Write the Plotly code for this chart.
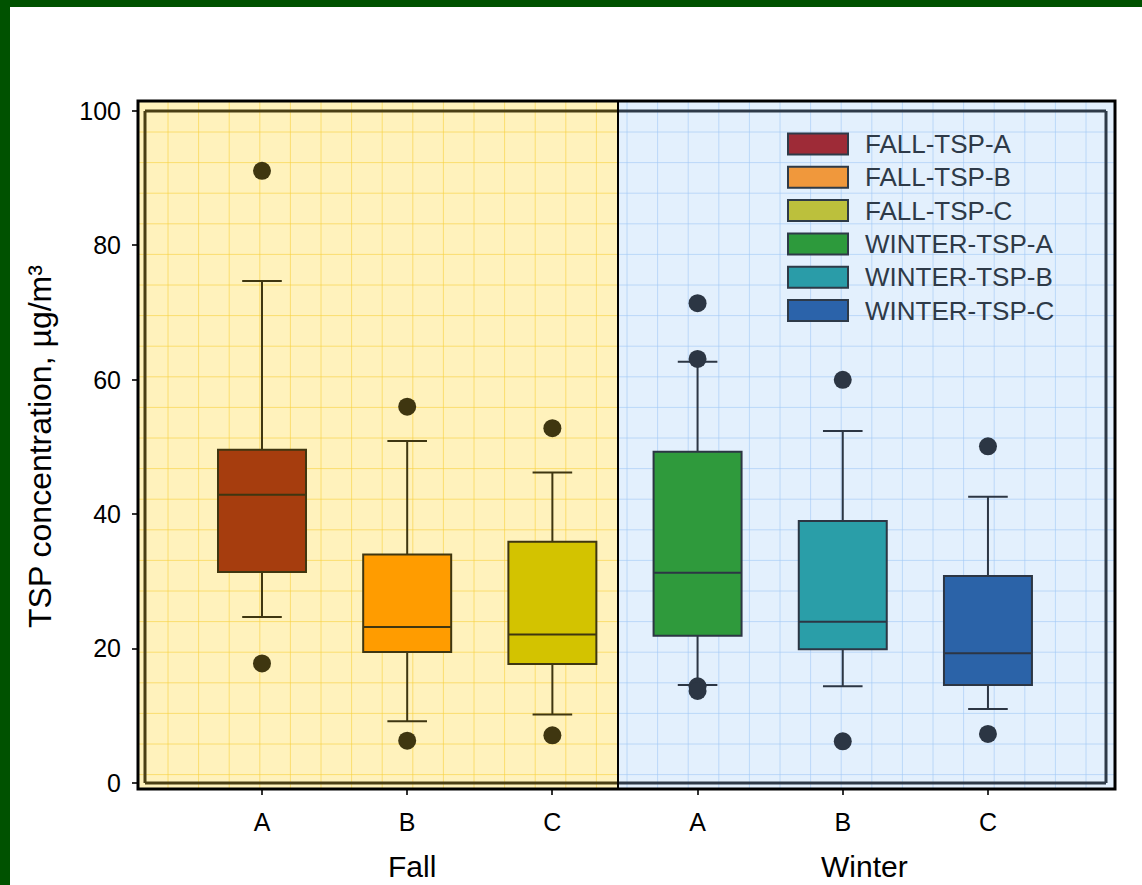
import plotly.graph_objects as go

# ---- data ----
categories = ["A", "B", "C", "A", "B", "C"]
series_names = ["FALL-TSP-A", "FALL-TSP-B", "FALL-TSP-C",
                "WINTER-TSP-A", "WINTER-TSP-B", "WINTER-TSP-C"]
lower_fence = [24.7, 9.2, 10.2, 14.6, 14.4, 11.0]
q1 = [31.4, 19.5, 17.7, 21.9, 19.9, 14.6]
median = [42.9, 23.2, 22.1, 31.3, 24.0, 19.3]
q3 = [49.6, 34.0, 35.9, 49.3, 39.0, 30.8]
upper_fence = [74.7, 50.9, 46.2, 62.7, 52.4, 42.6]
outliers = [[91.1, 17.8], [56.0, 6.3], [52.8, 7.1],
            [71.4, 63.1, 14.4, 13.7], [60.0, 6.2], [50.1, 7.3]]
season_labels = ["Fall", "Winter"]
y_ticks = [0, 20, 40, 60, 80, 100]

# ---- styling ----
box_fill = ["#a63d0e", "#ff9c00", "#d3c300", "#2f9a3c", "#2a9ea8", "#2b63a8"]
legend_fill = ["#9e2b37", "#f0983c", "#bcc03c", "#2d9a3c", "#2a9ca8", "#2b63aa"]
fall_ink = "#3f3610"
winter_ink = "#2c3644"
FONT = "Liberation Sans, Arial, sans-serif"

W, H = 1142, 885
L, R, T, B = 138, 1115, 101, 789   # plot area in pixels
PW, PH = R - L, B - T


def px(x):
    return (x - L) / PW


def py(y):
    return (B - y) / PH


fig = go.Figure()

positions = list(range(len(categories)))
for i in positions:
    ink = fall_ink if i < 3 else winter_ink
    fig.add_trace(go.Box(
        x=[i], q1=[q1[i]], median=[median[i]], q3=[q3[i]],
        lowerfence=[lower_fence[i]], upperfence=[upper_fence[i]],
        name=series_names[i], width=0.606, whiskerwidth=0.45,
        fillcolor=box_fill[i], line=dict(color=ink, width=2),
        boxpoints=False, showlegend=False, hoverinfo="skip",
    ))
    fig.add_trace(go.Scatter(
        x=[i] * len(outliers[i]), y=outliers[i], mode="markers",
        marker=dict(size=18, color=ink, line=dict(width=0)),
        showlegend=False, hoverinfo="skip",
    ))

shapes = []
div = 618
# season backgrounds
shapes.append(dict(type="rect", xref="paper", yref="paper", x0=0, x1=px(div),
                   y0=0, y1=1, fillcolor="#fff2bc", line=dict(width=0), layer="below"))
shapes.append(dict(type="rect", xref="paper", yref="paper", x0=px(div), x1=1,
                   y0=0, y1=1, fillcolor="#e3f0fd", line=dict(width=0), layer="below"))

# background grid texture
yellow_grid = "rgba(246,208,60,0.6)"
blue_grid = "rgba(160,200,245,0.6)"
step = 30.6
gx = L + 30
while gx < R:
    col = yellow_grid if gx < div else blue_grid
    shapes.append(dict(type="line", xref="paper", yref="paper", x0=px(gx), x1=px(gx),
                       y0=0, y1=1, line=dict(color=col, width=1), layer="below"))
    gx += step
gy = T + 31
while gy < B:
    for xa, xb, col in [(L, div, yellow_grid), (div, R, blue_grid)]:
        shapes.append(dict(type="line", xref="paper", yref="paper", x0=px(xa), x1=px(xb),
                           y0=py(gy), y1=py(gy), line=dict(color=col, width=1), layer="below"))
    gy += step

# inner axis frame
ix0, ix1, iy0, iy1 = 145, 1106, 111, 783
for xa, xb, col in [(ix0, div, "#4a3f14"), (div, ix1, "#2e3a48")]:
    for yy in (iy0, iy1):
        shapes.append(dict(type="line", xref="paper", yref="paper", x0=px(xa), x1=px(xb),
                           y0=py(yy), y1=py(yy), line=dict(color=col, width=3), layer="below"))
shapes.append(dict(type="line", xref="paper", yref="paper", x0=px(ix0), x1=px(ix0),
                   y0=py(iy0), y1=py(iy1), line=dict(color="#4a3f14", width=3), layer="below"))
shapes.append(dict(type="line", xref="paper", yref="paper", x0=px(ix1), x1=px(ix1),
                   y0=py(iy0), y1=py(iy1), line=dict(color="#2e3a48", width=3), layer="below"))

# outer frame and season divider
shapes.append(dict(type="rect", xref="paper", yref="paper", x0=0, x1=1, y0=0, y1=1,
                   line=dict(color="black", width=3)))
shapes.append(dict(type="line", xref="paper", yref="paper", x0=px(div), x1=px(div),
                   y0=0, y1=1, line=dict(color="black", width=2)))

# slide border
green = "#005200"
shapes.append(dict(type="rect", xref="paper", yref="paper", x0=px(0), x1=px(10),
                   y0=py(H), y1=py(0), fillcolor=green, line=dict(width=0)))
shapes.append(dict(type="rect", xref="paper", yref="paper", x0=px(0), x1=px(W),
                   y0=py(7), y1=py(0), fillcolor=green, line=dict(width=0)))

annotations = []
# legend
leg_x0, leg_x1, leg_h = 788, 848, 21
leg_rows = [144, 177.3, 210.6, 243.9, 277.2, 310.5]
for name, col, cy in zip(series_names, legend_fill, leg_rows):
    shapes.append(dict(type="rect", xref="paper", yref="paper",
                       x0=px(leg_x0), x1=px(leg_x1),
                       y0=py(cy + leg_h / 2), y1=py(cy - leg_h / 2),
                       fillcolor=col, line=dict(color="#2e3a48", width=2)))
    annotations.append(dict(xref="paper", yref="paper", x=px(863), y=py(cy),
                            xanchor="left", yanchor="middle", text=name, showarrow=False,
                            font=dict(family=FONT, size=26, color="#2e3a48")))

# season labels
for lab, cx in zip(season_labels, [412, 864]):
    annotations.append(dict(xref="paper", yref="paper", x=px(cx), y=py(866),
                            xanchor="center", yanchor="middle", text=lab, showarrow=False,
                            font=dict(family=FONT, size=30, color="black")))

# y title
annotations.append(dict(xref="paper", yref="paper", x=px(40), y=py(447),
                        xanchor="center", yanchor="middle", textangle=-90,
                        text="TSP concentration, µg/m³", showarrow=False,
                        font=dict(family=FONT, size=32, color="black")))

fig.update_layout(
    width=W, height=H,
    margin=dict(l=L, r=W - R, t=T, b=H - B),
    paper_bgcolor="white", plot_bgcolor="white",
    shapes=shapes, annotations=annotations,
    showlegend=False,
    font=dict(family=FONT, color="black"),
)
fig.update_xaxes(
    range=[-0.854, 5.875], tickvals=positions, ticktext=categories,
    showgrid=False, zeroline=False, showline=False,
    ticks="outside", ticklen=5, tickwidth=2, tickcolor="#333",
    ticklabelstandoff=6, tickfont=dict(family=FONT, size=25, color="black"),
)
fig.update_yaxes(
    range=[-0.89, 101.49], tickvals=y_ticks,
    showgrid=False, zeroline=False, showline=False,
    ticks="outside", ticklen=5, tickwidth=2, tickcolor="#333",
    ticklabelstandoff=6, tickfont=dict(family=FONT, size=25, color="black"),
)

fig.write_html("out.html")
